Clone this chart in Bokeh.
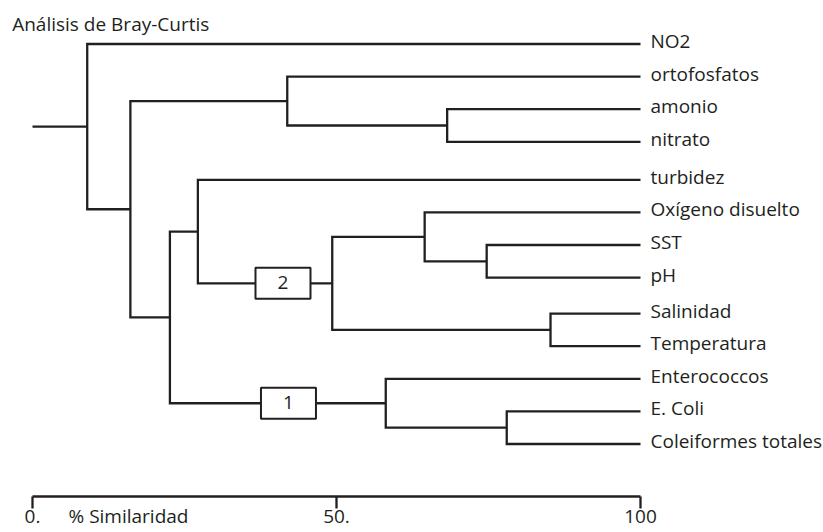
from bokeh.plotting import figure
from bokeh.models import Range1d, LinearAxis, FixedTicker, Label
from bokeh.core.properties import value
from bokeh.embed import file_html
from bokeh.resources import INLINE

# ---------------- data ----------------
title_text = "Análisis de Bray-Curtis"
axis_title = "% Similaridad"
leaves = ["NO2", "ortofosfatos", "amonio", "nitrato", "turbidez",
          "Oxígeno disuelto", "SST", "pH", "Salinidad", "Temperatura",
          "Enterococcos", "E. Coli", "Coleiformes totales"]
# agglomeration steps: new node, left child, right child, % similarity
merge_names = ["C", "B", "H", "G", "I", "F", "E", "K", "J", "D", "A", "R"]
merge_left = ["amonio", "ortofosfatos", "SST", "Oxígeno disuelto", "Salinidad",
              "G", "turbidez", "E. Coli", "Enterococcos", "E", "B", "NO2"]
merge_right = ["nitrato", "C", "pH", "H", "Temperatura", "I", "F",
               "Coleiformes totales", "K", "J", "D", "A"]
merge_sim = [68.2, 41.9, 74.7, 64.5, 85.2, 49.3, 27.2, 78.0, 58.1, 22.6, 16.1, 9.0]
leaf_sim = 100.0
cluster_labels = ["2", "1"]
cluster_nodes = ["F", "J"]
cluster_label_x = [41.2, 42.1]
tick_values = [0, 50, 100]
tick_labels = ["0.", "50.", "100"]

# ---------------- layout ----------------
INK = "#231f20"
FONT = "Open Sans"
W, H = 823, 532
PX_PER_UNIT = 6.08
X0 = -32.0 / PX_PER_UNIT
ROW_PX = 32.6
TOP_PX = 43.5            # first leaf, px from top of canvas
gap_after = {3: 0.165, 7: 0.105}
AXIS_PX = 496            # axis line, px from top of canvas
BASE_FIX = 7.5           # rendered baseline sits this far below the requested one

y_top = -TOP_PX / ROW_PX
y_bot = (H - TOP_PX) / ROW_PX

p = figure(width=W, height=H, output_backend="svg", toolbar_location=None,
           x_range=Range1d(X0, X0 + W / PX_PER_UNIT),
           y_range=Range1d(y_bot, y_top),
           x_axis_type=None, y_axis_type=None, title=None,
           min_border=0)
p.outline_line_color = None
p.background_fill_color = "white"
p.border_fill_color = "white"
p.grid.visible = False

# positions of leaves and nodes
pos = {}
off = 0.0
for i, name in enumerate(leaves):
    pos[name] = (leaf_sim, i + off)
    off += gap_after.get(i, 0.0)

xs, ys = [], []
for n, a, b, s in zip(merge_names, merge_left, merge_right, merge_sim):
    xa, ya = pos[a]
    xb, yb = pos[b]
    xs.append([xa, s, s, xb])
    ys.append([ya, ya, yb, yb])
    pos[n] = (s, (ya + yb) / 2.0)
rx, ry = pos[merge_names[-1]]
xs.append([0.0, rx])
ys.append([ry, ry])

p.multi_line(xs, ys, line_color=INK, line_width=2.3, line_join="miter", line_cap="butt")

# cluster boxes
box_y = [pos[n][1] for n in cluster_nodes]
p.rect(x=cluster_label_x, y=box_y, width=55, height=31,
       width_units="screen", height_units="screen",
       fill_color="white", line_color=INK, line_width=2)
p.text(x=cluster_label_x, y=box_y, text=cluster_labels,
       text_font=value(FONT), text_font_size="19px", text_color=INK,
       text_align="center", text_baseline="alphabetic", y_offset=7 - BASE_FIX)

# leaf labels
p.text(x=[leaf_sim] * len(leaves), y=[pos[l][1] for l in leaves], text=leaves,
       x_offset=10, y_offset=4.5 - BASE_FIX, text_font=value(FONT), text_font_size="19px",
       text_color=INK, text_align="left", text_baseline="alphabetic")

# axis
ax = LinearAxis(fixed_location=(AXIS_PX - TOP_PX) / ROW_PX,
                ticker=FixedTicker(ticks=tick_values),
                major_label_overrides={v: t for v, t in zip(tick_values, tick_labels)},
                bounds=(0, 100))
ax.axis_line_color = INK
ax.axis_line_width = 2.3
ax.major_tick_line_color = INK
ax.major_tick_line_width = 2.3
ax.major_tick_in = 0
ax.major_tick_out = 12
ax.minor_tick_line_color = None
ax.major_label_standoff = 1
ax.major_label_text_font = FONT
ax.major_label_text_font_size = "19px"
ax.major_label_text_color = INK
p.add_layout(ax, "below")

p.add_layout(Label(x=11.7, y=H - (31 - BASE_FIX), x_units="screen", y_units="screen",
                   text=title_text, text_font=FONT, text_font_size="19px",
                   text_color=INK, text_baseline="alphabetic"))
p.add_layout(Label(x=68, y=H - (523 - BASE_FIX), x_units="screen", y_units="screen",
                   text=axis_title, text_font=FONT, text_font_size="19px",
                   text_color=INK, text_baseline="alphabetic"))

open("out.html", "w").write(file_html(p, INLINE))
